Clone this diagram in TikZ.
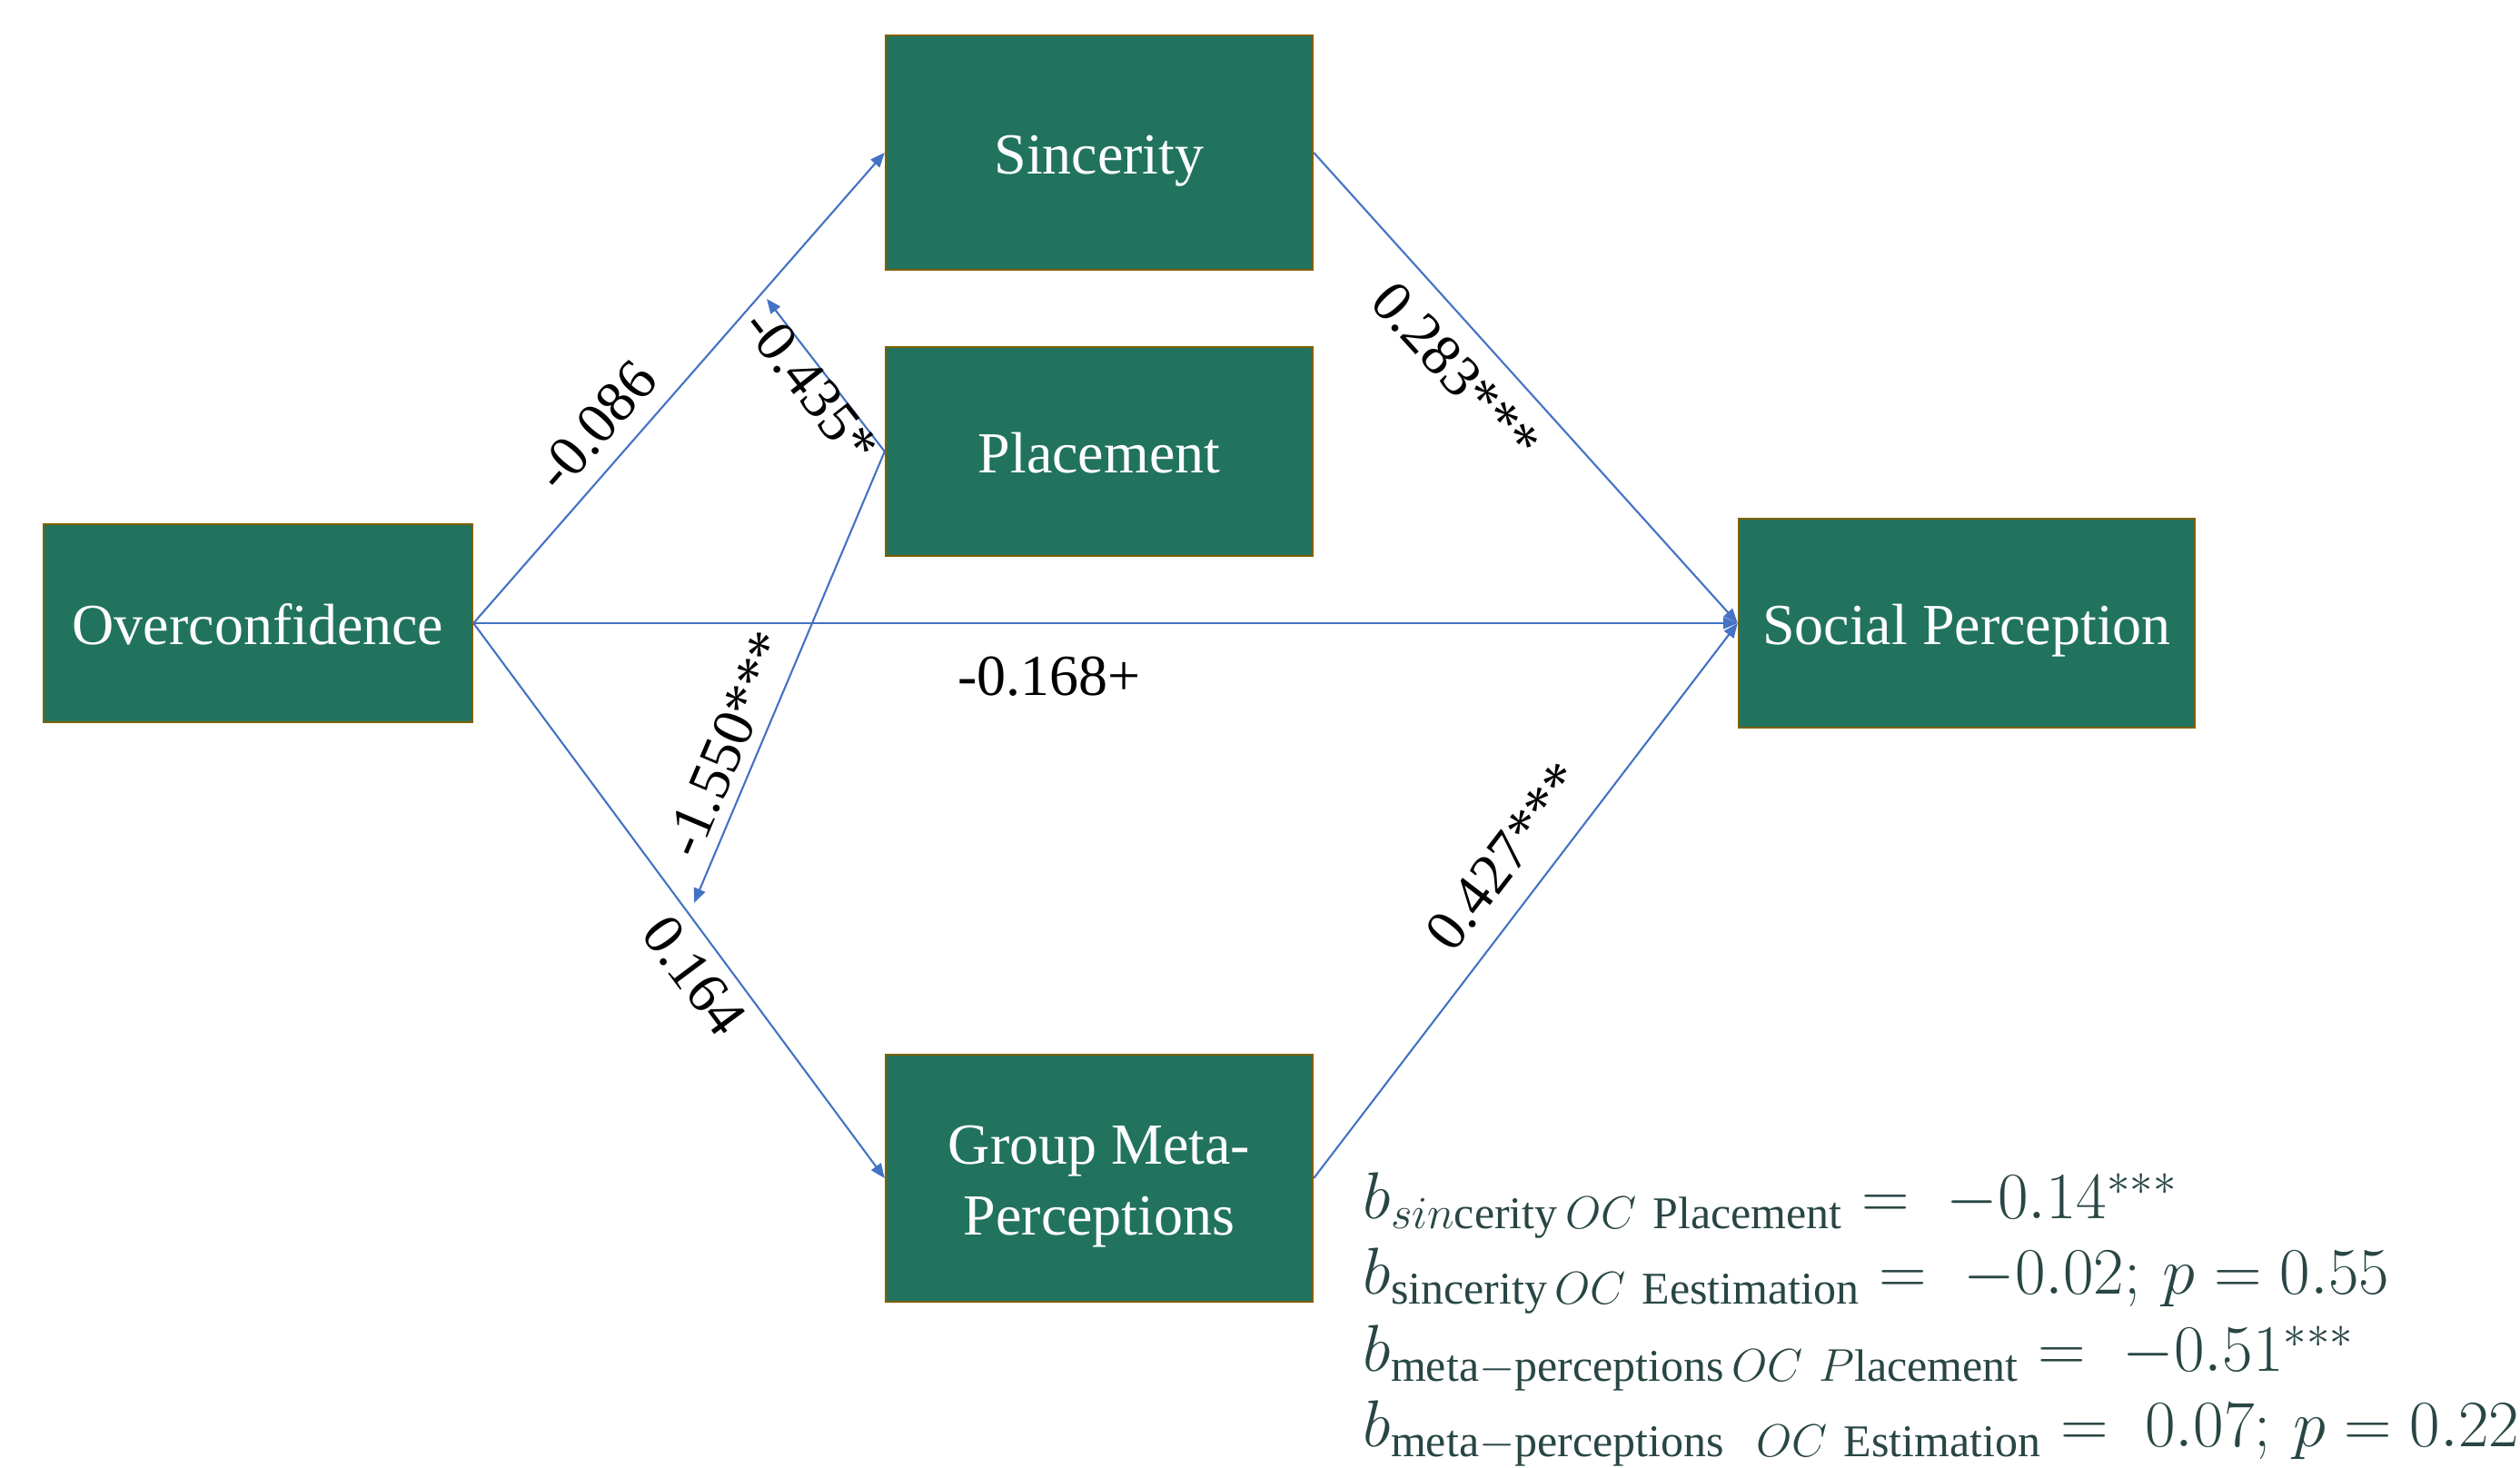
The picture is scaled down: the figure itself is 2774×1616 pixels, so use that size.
\documentclass[tikz,border=0pt]{standalone}
\usepackage{fontspec}
\setmainfont{Liberation Serif}
\usetikzlibrary{arrows.meta}
\definecolor{boxfill}{RGB}{33,115,94}
\definecolor{boxborder}{RGB}{127,96,0}
\definecolor{arrblue}{RGB}{68,114,196}
\definecolor{formcol}{RGB}{40,70,68}
\begin{document}
\begin{tikzpicture}[x=0.01cm,y=-0.01cm,
 box/.style={draw=boxborder, fill=boxfill, line width=0.6pt, text=white, font=\fontsize{18.2}{22.1}\selectfont, align=center, inner sep=0pt},
 oneline/.style={text height=17.3pt, text depth=3.8pt},
 arr/.style={draw=arrblue, line width=0.6pt, -{Triangle[length=0.16cm,width=0.13cm]}},
 lab/.style={font=\fontsize{18.2}{21.6}\selectfont, inner sep=0pt},
 form/.style={anchor=base west, text=formcol, inner sep=0pt, font=\fontsize{20.3}{24}\selectfont}]
\useasboundingbox (0,0) rectangle (2774,1616);
\node[box, oneline, minimum width=4.72cm, minimum height=2.17cm] (oc) at (284,686) {Overconfidence};
\node[box, oneline, minimum width=4.70cm, minimum height=2.58cm] (sinc) at (1210,168) {Sincerity};
\node[box, oneline, minimum width=4.70cm, minimum height=2.30cm] (plc) at (1210,497) {Placement};
\node[box, minimum width=4.70cm, minimum height=2.71cm] (gmp) at (1210,1297) {\raisebox{-0.083cm}[\height][\depth]{\begin{tabular}{@{}c@{}}Group Meta-\\Perceptions\end{tabular}}};
\node[box, oneline, minimum width=5.02cm, minimum height=2.30cm] (sp) at (2165,686) {Social Perception};
\coordinate (t1) at (844,329);
\coordinate (t2) at (764,994);
\draw[arr] (oc.east) -- (sinc.west);
\draw[arr] (oc.east) -- (sp.west);
\draw[arr] (oc.east) -- (gmp.west);
\draw[arr] (sinc.east) -- (sp.west);
\draw[arr] (gmp.east) -- (sp.west);
\draw[arr] (plc.west) -- (t1);
\draw[arr] (plc.west) -- (t2);
\node[lab, rotate=48.6] (l1) at (656,469) {-0.086};
\node[lab, rotate=-52] (l2) at (893,425) {-0.435*};
\node[lab, rotate=67] (l3) at (800,819) {-1.550***};
\node[lab, rotate=-53.3] (l4) at (764,1074) {0.164};
\node[lab] (l5) at (1155,745) {-0.168+};
\node[lab, rotate=-47.8] (l6) at (1603,409) {0.283***};
\node[lab, rotate=52.5] (l7) at (1656,943) {0.427***};
\node[form] (f1) at (1500,1342) {$b_{sin\mathrm{cerity}\,OC\ \mathrm{Placement}} = \;-0.14^{***}$};
\node[form] (f2) at (1500,1425) {$b_{\mathrm{sincerity}\,OC\ \mathrm{Eestimation}} = \;-0.02;\,p = 0.55$};
\node[form] (f3) at (1500,1510) {$b_{\mathrm{meta}{-}\mathrm{perceptions}\,OC\ P\mathrm{lacement}} = \;-0.51^{***}$};
\node[form] (f4) at (1500,1593) {$b_{\mathrm{meta}{-}\mathrm{perceptions}\ \ OC\ \mathrm{Estimation}} = \;0.07;\,p = 0.22$};
\end{tikzpicture}
\end{document}
